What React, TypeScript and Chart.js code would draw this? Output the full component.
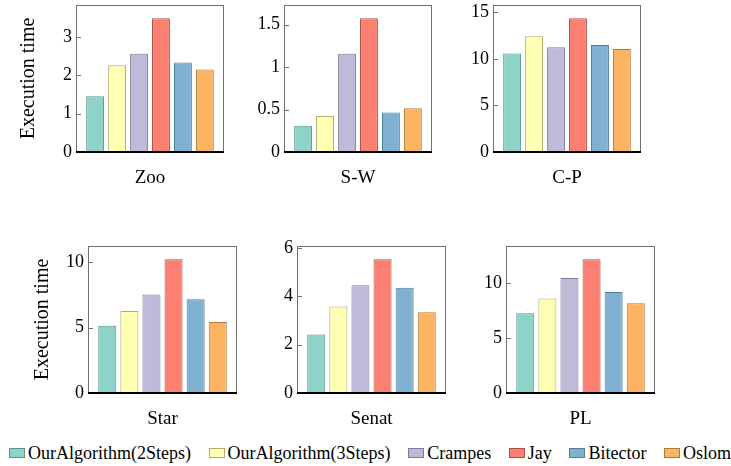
import React, { useEffect, useRef } from 'react';
import { Chart, registerables } from 'chart.js';

Chart.register(...registerables);

// ---- data ----
const algorithms = [
  'OurAlgorithm(2Steps)',
  'OurAlgorithm(3Steps)',
  'Crampes',
  'Jay',
  'Bitector',
  'Oslom',
];
const networks = ['Zoo', 'S-W', 'C-P', 'Star', 'Senat', 'PL'];
const zooTimes = [1.45, 2.26, 2.56, 3.48, 2.33, 2.15];
const swTimes = [0.31, 0.425, 1.157, 1.575, 0.465, 0.516];
const cpTimes = [10.58, 12.41, 11.23, 14.34, 11.47, 11.04];
const starTimes = [5.15, 6.28, 7.54, 10.23, 7.18, 5.44];
const senatTimes = [2.42, 3.58, 4.46, 5.53, 4.36, 3.34];
const plTimes = [7.27, 8.6, 10.47, 12.17, 9.19, 8.18];
const yTickSteps = [1, 0.5, 5, 5, 2, 5];
const yTitle = 'Execution time';

// ---- style ----
const fillColors = ['#8dd3c7', '#ffffb3', '#bebada', '#fb8072', '#80b1d3', '#fdb462'];
const edgeColors = ['#5a958b', '#adad74', '#7f7c98', '#ad5148', '#537d9b', '#ae7a3a'];
const FONT =
  "'Liberation Serif', 'DejaVu Serif', 'Noto Serif', Tinos, 'Times New Roman', Times, FreeSerif, 'Nimbus Roman', serif";

const seriesByNetwork = [zooTimes, swTimes, cpTimes, starTimes, senatTimes, plTimes];

// plot-area placement of each panel (page pixels)
const panelLayout = [
  { left: 76, top: 5, w: 148, h: 147, yW: 59, title: true },
  { left: 284, top: 5, w: 148, h: 147, yW: 50, title: false },
  { left: 493, top: 5, w: 148, h: 147, yW: 50, title: false },
  { left: 88, top: 246, w: 149, h: 147, yW: 57, title: true },
  { left: 297, top: 246, w: 149, h: 147, yW: 50, title: false },
  { left: 506, top: 246, w: 149, h: 147, yW: 50, title: false },
];
const PAD_TOP = 16;
const PAD_RIGHT = 4;
const X_H = 40;

const framePlugin = {
  id: 'frame',
  afterDatasetsDraw(chart: any) {
    const { ctx, chartArea, scales } = chart;
    const { left, top, right, bottom } = chartArea;
    const y = scales.y;
    ctx.save();
    ctx.strokeStyle = '#707070';
    ctx.lineWidth = 1;
    ctx.strokeRect(left + 0.5, top + 0.5, right - left - 1, bottom - top - 1);
    y.ticks.forEach((t: any) => {
      const py = Math.round(y.getPixelForValue(t.value)) + 0.5;
      ctx.beginPath();
      ctx.moveTo(left, py);
      ctx.lineTo(left + 5, py);
      ctx.stroke();
    });
    const y0 = y.getPixelForValue(0);
    ctx.strokeStyle = '#000';
    ctx.lineWidth = 1.8;
    ctx.beginPath();
    ctx.moveTo(left, y0);
    ctx.lineTo(right, y0);
    ctx.stroke();
    ctx.restore();
  },
};

function Panel({ idx }: { idx: number }) {
  const ref = useRef<HTMLCanvasElement | null>(null);
  const L = panelLayout[idx];
  const cw = L.yW + L.w + PAD_RIGHT;
  const ch = PAD_TOP + L.h + X_H;

  useEffect(() => {
    const values = seriesByNetwork[idx];
    const maxV = Math.max(...values) * 1.1;
    const chart = new Chart(ref.current as HTMLCanvasElement, {
      type: 'bar',
      data: {
        labels: [networks[idx]],
        datasets: algorithms.map((a, i) => ({
          label: a,
          data: [values[i]],
          backgroundColor: fillColors[i],
          borderColor: edgeColors[i],
          borderWidth: 1,
          categoryPercentage: 0.89,
          barPercentage: 0.815,
        })),
      },
      options: {
        responsive: false,
        animation: false,
        devicePixelRatio: 1,
        layout: { padding: { top: PAD_TOP, right: PAD_RIGHT, left: 0, bottom: 0 } },
        plugins: { legend: { display: false }, tooltip: { enabled: false } },
        scales: {
          x: {
            grid: { display: false, drawTicks: false },
            border: { display: false },
            ticks: { font: { family: FONT, size: 19 }, color: '#000', padding: 15 },
            afterFit: (s: any) => {
              s.height = X_H;
            },
          },
          y: {
            min: 0,
            max: maxV,
            grid: { display: false, drawTicks: false },
            border: { display: false },
            ticks: {
              stepSize: yTickSteps[idx],
              includeBounds: false,
              font: { family: FONT, size: 18 },
              color: '#000',
              padding: 4,
              callback: (v: any) => String(Math.round(Number(v) * 100) / 100),
            },
            title: {
              display: L.title,
              text: yTitle,
              font: { family: FONT, size: 20 },
              color: '#000',
              padding: 0,
            },
            afterFit: (s: any) => {
              s.width = L.yW;
            },
          },
        },
      },
      plugins: [framePlugin],
    } as any);
    return () => chart.destroy();
  }, [idx]);

  return (
    <canvas
      ref={ref}
      width={cw}
      height={ch}
      style={{
        position: 'absolute',
        left: L.left - L.yW,
        top: L.top - PAD_TOP,
        width: cw,
        height: ch,
      }}
    />
  );
}

export default function App() {
  return (
    <div
      style={{
        position: 'fixed',
        left: 0,
        top: 0,
        width: 731,
        height: 466,
        overflow: 'hidden',
        background: '#fff',
      }}
    >
      {networks.map((n, i) => (
        <Panel key={n} idx={i} />
      ))}
      <div
        style={{
          position: 'absolute',
          left: 9,
          width: 722,
          top: 442,
          height: 22,
          display: 'flex',
          justifyContent: 'space-between',
          alignItems: 'center',
          fontFamily: FONT,
          fontSize: 18,
          color: '#000',
          whiteSpace: 'nowrap',
        }}
      >
        {algorithms.map((a, i) => (
          <div key={a} style={{ display: 'flex', alignItems: 'center' }}>
            <span
              style={{
                display: 'inline-block',
                width: 16,
                height: 10,
                boxSizing: 'border-box',
                background: fillColors[i],
                border: `1px solid ${edgeColors[i]}`,
                marginRight: 3,
              }}
            />
            <span>{a}</span>
          </div>
        ))}
      </div>
    </div>
  );
}
